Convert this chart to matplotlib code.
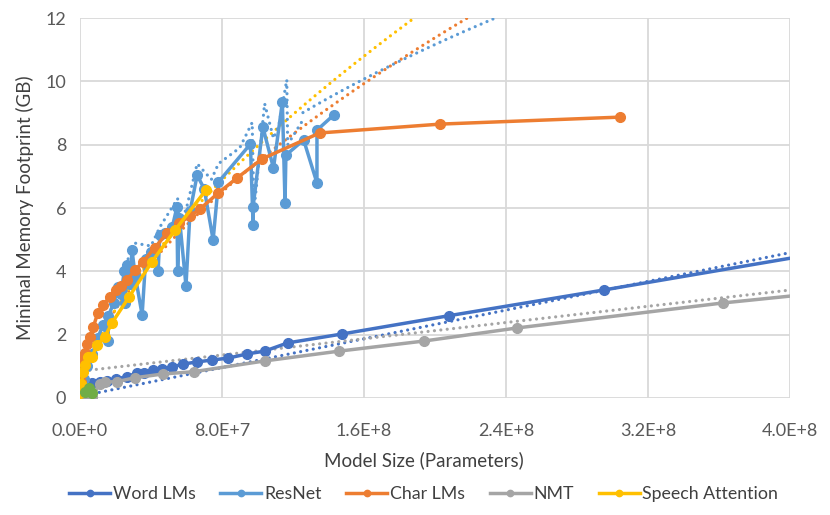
import numpy as np
import matplotlib
matplotlib.use("Agg")
from matplotlib import pyplot as plt
from matplotlib.ticker import FuncFormatter, MultipleLocator

plt.rcParams['font.family'] = ['Lato', 'DejaVu Sans']

# series (x = parameters, y = GB)
word_x = [0.2e6, 1e6, 2e6, 4e6, 7e6, 1.1e7, 1.5e7, 2.0e7, 2.65e7, 3.2e7, 3.6e7, 4.1e7,
          4.6e7, 5.2e7, 5.8e7, 6.6e7, 7.45e7, 8.35e7, 9.4e7, 1.04e8, 1.17e8, 1.475e8,
          2.08e8, 2.95e8, 4.3e8]
word_y = [0.15, 0.3, 0.38, 0.42, 0.47, 0.52, 0.55, 0.6, 0.67, 0.79, 0.8, 0.88,
          0.93, 0.98, 1.07, 1.14, 1.2, 1.26, 1.39, 1.48, 1.74, 2.02,
          2.6, 3.41, 4.7]

resnet_x = [0.5e6, 2e6, 4e6, 7e6, 1.0e7, 1.3e7, 1.58e7, 1.6e7, 1.9e7, 2.14e7, 2.3e7, 2.5e7,
            2.54e7, 2.65e7, 2.8e7, 2.93e7, 3.1e7, 3.5e7, 3.7e7, 4.0e7, 4.4e7, 4.5e7,
            4.8e7, 5.2e7, 5.46e7, 5.5e7, 5.6e7, 5.97e7, 6.2e7, 6.6e7, 7.0e7, 7.5e7,
            7.8e7, 9.6e7, 9.75e7, 9.75e7, 1.03e8, 1.09e8, 1.14e8, 1.155e8, 1.16e8,
            1.26e8, 1.335e8, 1.335e8, 1.43e8]
resnet_y = [0.2, 0.6, 1.0, 1.4, 1.9, 2.3, 1.8, 2.6, 3.0, 3.5, 3.3, 4.0,
            3.0, 4.2, 3.6, 4.67, 3.9, 2.62, 4.4, 4.6, 4.01, 5.15,
            5.2, 5.4, 6.03, 4.01, 5.7, 3.54, 5.9, 7.04, 6.6, 4.99,
            6.82, 8.02, 5.46, 6.03, 8.56, 7.26, 9.35, 6.16, 7.67,
            8.15, 6.79, 8.46, 8.94]

# dotted ResNet curve that zigzags above the peaks
resnet_dot_x = [2.6e7, 3.0e7, 4.0e7, 4.5e7, 5.5e7, 5.6e7, 6.0e7, 6.6e7, 7.4e7, 7.8e7,
                9.0e7, 9.7e7, 9.8e7, 1.04e8, 1.09e8, 1.12e8, 1.165e8, 1.17e8, 1.256e8]
resnet_dot_y = [4.2, 4.9, 4.8, 5.4, 6.3, 5.4, 6.0, 7.4, 6.9, 7.4,
                7.9, 8.7, 5.9, 9.3, 8.2, 8.6, 10.05, 8.0, 8.78]

char_x = [0.1e6, 0.5e6, 1e6, 1.5e6, 2e6, 2.8e6, 4e6, 5.6e6, 7.5e6, 1.0e7, 1.3e7, 1.7e7,
          2.0e7, 2.3e7, 2.65e7, 3.1e7, 3.55e7, 4.2e7, 4.9e7, 5.6e7, 6.2e7, 6.76e7,
          7.8e7, 8.85e7, 1.025e8, 1.35e8, 2.03e8, 3.04e8]
char_y = [0.1, 0.5, 0.8, 1.05, 1.25, 1.42, 1.7, 1.93, 2.25, 2.68, 2.95, 3.19,
          3.41, 3.55, 3.73, 4.04, 4.3, 4.74, 5.2, 5.52, 5.75, 5.97,
          6.48, 6.95, 7.55, 8.37, 8.65, 8.87]

nmt_x = [2.5e6, 7e6, 1.1e7, 1.4e7, 2.1e7, 3.1e7, 4.7e7, 6.4e7, 1.04e8, 1.46e8,
         1.94e8, 2.46e8, 3.62e8, 4.3e8]
nmt_y = [0.03, 0.03, 0.45, 0.5, 0.52, 0.64, 0.76, 0.83, 1.17, 1.48,
         1.8, 2.21, 3.0, 3.39]

speech_x = [0.2e6, 0.8e6, 1.7e6, 3e6, 4.5e6, 6.8e6, 9.6e6, 1.4e7, 1.8e7, 2.76e7,
            4.05e7, 5.35e7, 7.1e7]
speech_y = [0.15, 0.45, 0.82, 1.05, 1.29, 1.3, 1.67, 1.93, 2.37, 3.19,
            4.3, 5.3, 6.57]

# unlabelled green series near the origin
other_x = [3e6, 5e6, 6.5e6]
other_y = [0.2, 0.3, 0.15]

# trendlines
word_trend = (1.134e-8, 0.054)     # slope, intercept
nmt_trend = (6.41e-9, 0.845)
resnet_trend = (2.34e8, 12.0, 0.46)    # anchor x, anchor y, exponent
char_trend = (2.2e8, 12.06, 0.61)
speech_trend = (1.89e8, 12.03, 0.65)

C_WORD = '#4472C4'
C_RESNET = '#5B9BD5'
C_CHAR = '#ED7D31'
C_NMT = '#A5A5A5'
C_SPEECH = '#FFC000'
C_OTHER = '#70AD47'

fig = plt.figure(figsize=(8.3, 5.15), dpi=100)
ax = fig.add_axes([0.0964, 0.2272, 0.8554, 0.7378])

lw = 2.5
ms = 7
dot = dict(lw=2.3, linestyle=(0, (0.01, 2.0)), dash_capstyle='round')

xt = np.linspace(min(word_x), 4.0e8, 200)
ax.plot(xt, word_trend[0] * xt + word_trend[1], color=C_WORD, zorder=2.5, **dot)
xt = np.linspace(5.6e6, 4.0e8, 200)
ax.plot(xt, nmt_trend[0] * xt + nmt_trend[1], color=C_NMT, zorder=2.6, **dot)

for x_start, (x0, y0, b), c in [(resnet_dot_x[-1], resnet_trend, C_RESNET),
                                (min(char_x), char_trend, C_CHAR),
                                (min(speech_x), speech_trend, C_SPEECH)]:
    xt = np.linspace(x_start, x0, 300)
    ax.plot(xt, y0 * (xt / x0) ** b, color=c, zorder=2.7, **dot)
ax.plot(resnet_dot_x, resnet_dot_y, color=C_RESNET, zorder=2.7, **dot)

series = [
    (word_x, word_y, C_WORD, 'Word LMs'),
    (resnet_x, resnet_y, C_RESNET, 'ResNet'),
    (char_x, char_y, C_CHAR, 'Char LMs'),
    (nmt_x, nmt_y, C_NMT, 'NMT'),
    (speech_x, speech_y, C_SPEECH, 'Speech Attention'),
]
for i, (xs, ys, c, name) in enumerate(series):
    ax.plot(xs, ys, color=c, lw=lw, marker='o', ms=ms, label=name, zorder=3 + i)
ax.plot(other_x, other_y, color=C_OTHER, lw=lw, marker='o', ms=ms, zorder=9)

ax.set_xlim(0, 4.0e8)
ax.set_ylim(0, 12)
ax.xaxis.set_major_locator(MultipleLocator(8e7))
ax.yaxis.set_major_locator(MultipleLocator(2))


def sci(v, pos):
    m, e = f"{v:.1E}".split('E')
    return f"{m}E{int(e):+d}"


ax.xaxis.set_major_formatter(FuncFormatter(sci))
ax.grid(True, color='#D9D9D9', lw=1.3, zorder=0)
ax.set_axisbelow(True)
for s in ax.spines.values():
    s.set_visible(False)
ax.tick_params(length=0, labelsize=13, labelcolor='#595959')
ax.tick_params(axis='x', pad=18)
ax.tick_params(axis='y', pad=10)

ax.set_xlabel('Model Size (Parameters)', fontsize=13.5, color='#404040', labelpad=8)
ax.xaxis.set_label_coords(0.485, -0.14)
ax.set_ylabel('Minimal Memory Footprint (GB)', fontsize=13.5, color='#404040', labelpad=8)

leg = ax.legend(loc='upper center', bbox_to_anchor=(0.484, -0.19), ncol=5, frameon=False,
                fontsize=12.8, handlelength=2.3, columnspacing=1.4, handletextpad=0.15,
                markerscale=0.65)
for t in leg.get_texts():
    t.set_color('#404040')

fig.savefig('out.png', dpi=100)
